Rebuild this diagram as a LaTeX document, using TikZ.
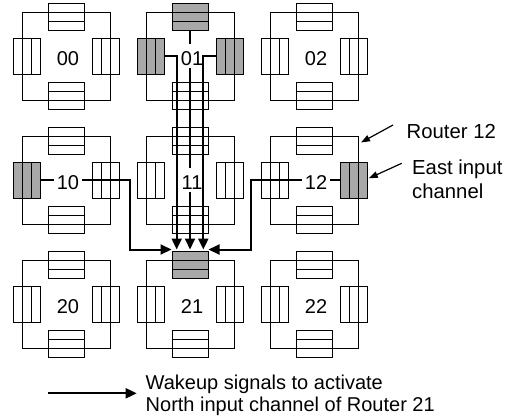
\documentclass[tikz,border=0pt]{standalone}
\usepackage{fontspec}
\setmainfont{Liberation Sans}
\usetikzlibrary{arrows.meta,calc}
\definecolor{chgray}{RGB}{168,168,168}
\newcommand\router[6]{%
  \node[rsq] (r#1) at (#2,#3) {};
  \node[hbuf=#4] (b#1N) at (#2,#3-39.5) {};
  \node[hbuf=white] (b#1S) at (#2,#3+39.5) {};
  \node[vbuf=#5] (b#1W) at (#2-39.5,#3) {};
  \node[vbuf=#6] (b#1E) at (#2+39.5,#3) {};
}
\begin{document}
\begin{tikzpicture}[x=1pt,y=-1pt,
  rsq/.style={draw,line width=1pt,minimum width=88pt,minimum height=88pt,inner sep=0pt},
  hbuf/.style={draw,line width=1pt,fill=#1,minimum width=36pt,minimum height=27pt,inner sep=0pt,
    path picture={
      \draw[line width=1pt] ($(path picture bounding box.south west)!1/3!(path picture bounding box.north west)$) -- ($(path picture bounding box.south east)!1/3!(path picture bounding box.north east)$);
      \draw[line width=1pt] ($(path picture bounding box.south west)!2/3!(path picture bounding box.north west)$) -- ($(path picture bounding box.south east)!2/3!(path picture bounding box.north east)$);
    }},
  vbuf/.style={draw,line width=1pt,fill=#1,minimum width=27pt,minimum height=36pt,inner sep=0pt,
    path picture={
      \draw[line width=1pt] ($(path picture bounding box.south west)!1/3!(path picture bounding box.south east)$) -- ($(path picture bounding box.north west)!1/3!(path picture bounding box.north east)$);
      \draw[line width=1pt] ($(path picture bounding box.south west)!2/3!(path picture bounding box.south east)$) -- ($(path picture bounding box.north west)!2/3!(path picture bounding box.north east)$);
    }},
  lab/.style={fill=white,inner xsep=2.5pt,inner ysep=3pt,text height=18pt,text depth=0pt,font=\fontsize{20}{24}\selectfont},
  wire/.style={line width=2pt},
  arr/.style={wire,-{Triangle[length=11pt,width=10pt]}},
  ann/.style={line width=1.2pt,-{Triangle[length=9pt,width=6.5pt]}},
  txt/.style={inner sep=0pt,font=\fontsize{20.3}{24}\selectfont}
]
\useasboundingbox (0,0) rectangle (513,418);

% routers
\router{00}{66}{56}{white}{white}{white}
\router{01}{190}{56}{chgray}{chgray}{chgray}
\router{02}{314}{56}{white}{white}{white}
\router{10}{66}{180}{white}{chgray}{white}
\router{11}{190}{180}{white}{white}{white}
\router{12}{314}{180}{white}{white}{chgray}
\router{20}{66}{304}{white}{white}{white}
\router{21}{190}{304}{chgray}{white}{white}
\router{22}{314}{304}{white}{white}{white}

% wakeup signals (under the labels)
\draw[arr] (b01N.south) -- ([yshift=1pt]b21N.north);
\draw[arr] (b10W.east) -- ++(89pt,0) |- ([yshift=1pt]b21N.north west);
\draw[arr] (b12E.west) -- ++(-88.3pt,0) |- ([yshift=1pt]b21N.north east);

% router labels
\foreach \id/\cx/\cy in {00/66/56,01/190/56,02/314/56,10/66/180,11/190/180,12/314/180,20/66/304,21/190/304,22/314/304}
  \node[lab] (l\id) at (\cx+2,\cy) {\id};

% side signals of router 01
\draw[arr] (b01W.east) -| ($(b21N.north)+(-13.3pt,1pt)$);
\draw[arr] (b01E.west) -| ($(b21N.north)+(13.3pt,1pt)$);

% annotations
\node[txt,anchor=base west] (tR) at (406.5,138.5) {Router 12};
\node[txt,font=\fontsize{20.3}{24}\selectfont,align=left,anchor=north west] (tE) at (412,159.5) {East input\\channel};
\coordinate (aR) at (393,125);
\coordinate (aE) at (401.7,163.3);
\draw[ann] (aR) -- ([xshift=2.5pt,yshift=-7pt]r12.north east);
\draw[ann] (aE) -- ([xshift=1.3pt,yshift=1.7pt]b12E.east);

% legend
\coordinate (lg1) at (48.3,393.3);
\coordinate (lg2) at (136.7,393.3);
\draw[arr] (lg1) -- (lg2);
\node[txt,font=\fontsize{20}{21.5}\selectfont,align=left,anchor=north west] (tL) at (145.5,375) {Wakeup signals to activate\\North input channel of Router 21};
\end{tikzpicture}
\end{document}
